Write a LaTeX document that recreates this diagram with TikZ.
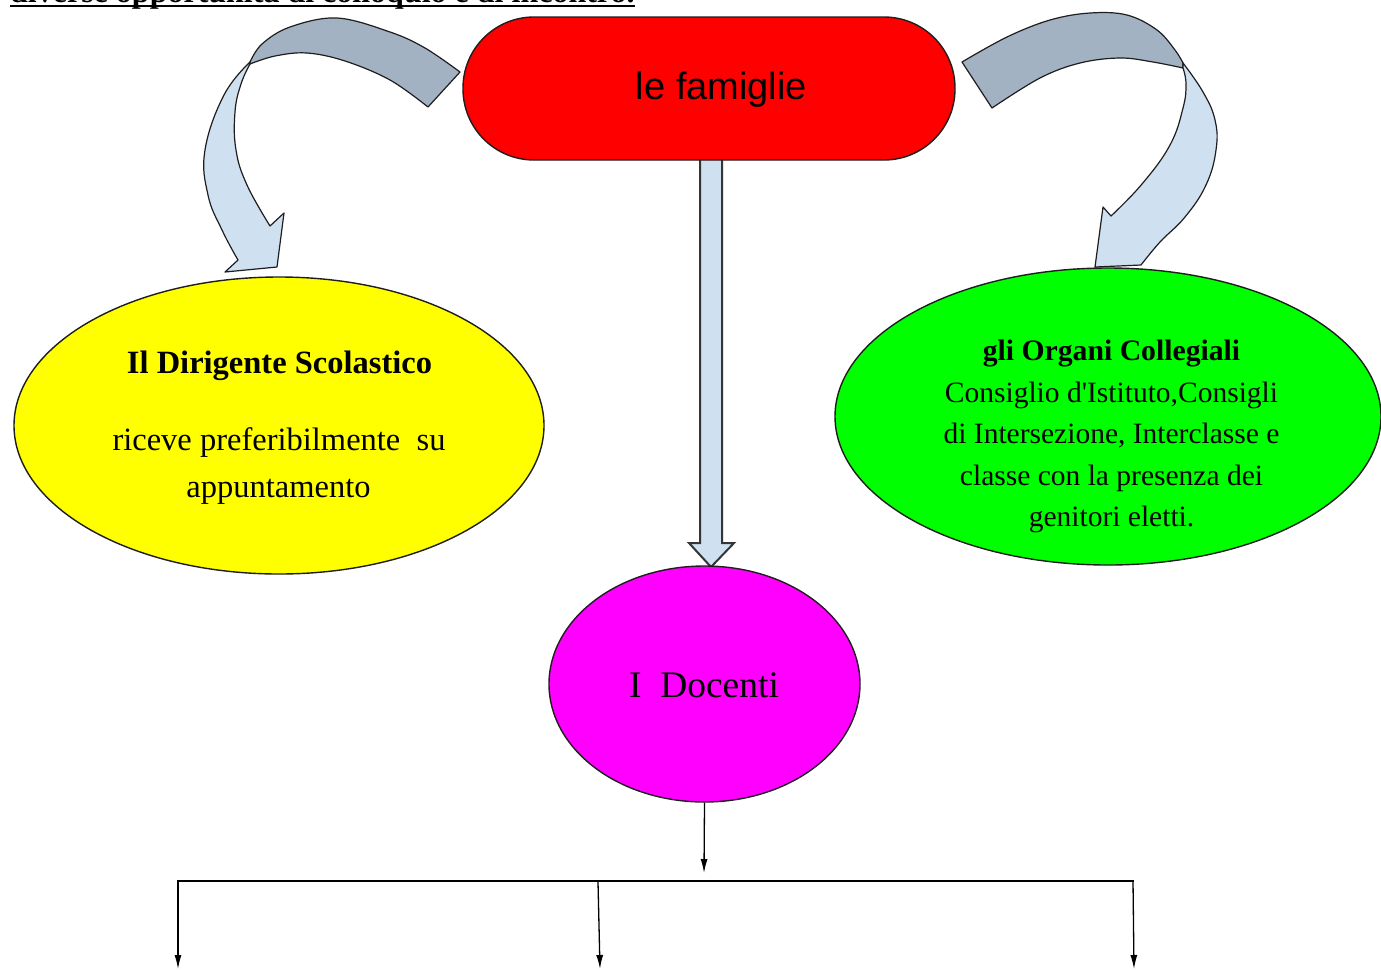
\documentclass[tikz,border=0pt]{standalone}
\usepackage{fontspec}
\setmainfont{Liberation Serif}[Ligatures=TeXOff]
\newfontfamily\arialf{Liberation Sans}
\usetikzlibrary{arrows.meta,shapes.geometric,backgrounds}
\definecolor{famred}{RGB}{255,0,0}
\definecolor{diryellow}{RGB}{255,255,0}
\definecolor{orggreen}{RGB}{0,255,0}
\definecolor{docmag}{RGB}{255,0,255}
\definecolor{banddark}{RGB}{163,178,195}
\definecolor{bandlight}{RGB}{207,224,241}
\definecolor{outl}{RGB}{30,30,30}
\tikzset{
  bubble/.style={ellipse,draw=outl,line width=1.4pt,inner sep=0pt},
  darkband/.style={fill=banddark,draw=outl,line width=1.2pt,line join=round},
  lightband/.style={fill=bandlight,draw=outl,line width=1.2pt,line join=round},
  blockarrow/.style={fill=bandlight,draw=outl!90,line width=2pt,line join=miter},
  conn/.style={draw=black,line width=1.3pt,-{Latex[length=14pt,width=7pt]}},
  hline/.style={draw=black,line width=2.2pt},
  ytxt/.style={anchor=base,inner sep=0pt,font=\fontsize{32.5}{36}\selectfont},
  ybtxt/.style={anchor=base,inner sep=0pt,font=\fontsize{32.5}{36}\selectfont\bfseries},
  gtxt/.style={anchor=base,inner sep=0pt,font=\fontsize{29.5}{36}\selectfont},
  gbtxt/.style={anchor=base,inner sep=0pt,font=\fontsize{29.7}{36}\selectfont\bfseries}
}
\begin{document}
\begin{tikzpicture}[x=1pt,y=-1pt]
\useasboundingbox (0,0) rectangle (1381,970);
\clip (0,0) rectangle (1381,970);
\fill[white] (0,0) rectangle (1381,970);

% clipped heading
\node[anchor=base west,inner sep=0pt,font=\fontsize{32}{36}\selectfont\bfseries] (head) at (10,2) {diverse opportunità di colloquio e di incontro.};
\draw[line width=2pt] (head.base west |- 0,5.5) -- (head.base east |- 0,5.5);

% curved arrows
\filldraw[darkband] plot[smooth,tension=0.6] coordinates {(460,72) (425,48) (390,32) (337,18) (290,27) (262,44) (250,62)}
  -- plot[smooth,tension=0.6] coordinates {(250,64) (275,56) (307,53) (345,61) (390,80) (428,107)} -- cycle;
\filldraw[lightband] plot[smooth,tension=0.7] coordinates {(250,62) (224,95) (205,150) (208,195) (222,230) (238,260)}
  -- (225,272) -- (277,267) -- (284,213) -- (270,226)
  -- plot[smooth,tension=0.7] coordinates {(270,226) (247,185) (236,150) (235,112) (241,84) (250,64)} -- cycle;

\filldraw[darkband] plot[smooth,tension=0.6] coordinates {(962,62) (1007,37) (1050,20) (1090,13) (1127,15) (1157,30) (1175,50) (1183,63)}
  -- plot[smooth,tension=0.6] coordinates {(1183,68) (1153,62) (1120,58) (1080,63) (1040,78) (992,108)} -- cycle;
\filldraw[lightband] plot[smooth,tension=0.7] coordinates {(1183,63) (1203,92) (1215,120) (1216,150) (1206,185) (1185,217) (1160,242) (1141,265)}
  -- (1095,267) -- (1103,207) -- (1111,216)
  -- plot[smooth,tension=0.7] coordinates {(1111,216) (1142,184) (1170,145) (1183,108) (1186,84) (1183,68)} -- cycle;

% block arrow down
\filldraw[blockarrow] (700,150) -- (700,543) -- (689,543) -- (711,567) -- (734,543) -- (722,543) -- (722,150) -- cycle;

% main shapes
\node[draw=outl,line width=1.4pt,fill=famred,rounded corners=71pt,minimum width=492pt,minimum height=143pt,inner sep=0pt] (fam) at (709,88.5) {};
\node[anchor=base,inner sep=0pt,font=\arialf\fontsize{38}{40}\selectfont] (famT) at (721.5,99) {le famiglie};
\node[bubble,fill=diryellow,minimum width=530pt,minimum height=297pt] (dir) at (279,425.5) {};
\node[bubble,fill=orggreen,minimum width=546pt,minimum height=297pt] (org) at (1108,416.5) {};
\node[bubble,fill=docmag,minimum width=311pt,minimum height=236pt] (doc) at (704.5,684) {};

% texts
\node[ybtxt] (dirT) at (279.5,373) {Il Dirigente Scolastico};
\node[ytxt] (dirA) at (279,450) {riceve preferibilmente\ \ su};
\node[ytxt] (dirB) at (278.5,497) {appuntamento};

\node[gbtxt] (orgT) at (1111.5,360) {gli Organi Collegiali};
\node[gtxt] (orgA) at (1111.5,402) {Consiglio d'Istituto,Consigli};
\node[gtxt] (orgB) at (1111.5,443) {di Intersezione, Interclasse e};
\node[gtxt] (orgC) at (1111.5,485) {classe con la presenza dei};
\node[gtxt] (orgD) at (1111.5,526) {genitori eletti.};

\node[anchor=base,inner sep=0pt,font=\fontsize{37.5}{40}\selectfont] (docT) at (704,697) {I\ \ Docenti};

% connectors
\coordinate (tip) at (704,873);
\coordinate (hl) at (178,881);
\coordinate (hm) at (598,882);
\coordinate (hr) at (1133,881);
\coordinate (b1) at (178,969);
\coordinate (b2) at (600,969);
\coordinate (b3) at (1134,969);
\draw[conn] (doc.south) -- (tip);
\draw[hline] ([xshift=-1pt]hl) -- ([xshift=1pt]hr);
\draw[conn] (hl) -- (b1);
\draw[conn] (hm) -- (b2);
\draw[conn] (hr) -- (b3);
\end{tikzpicture}
\end{document}
